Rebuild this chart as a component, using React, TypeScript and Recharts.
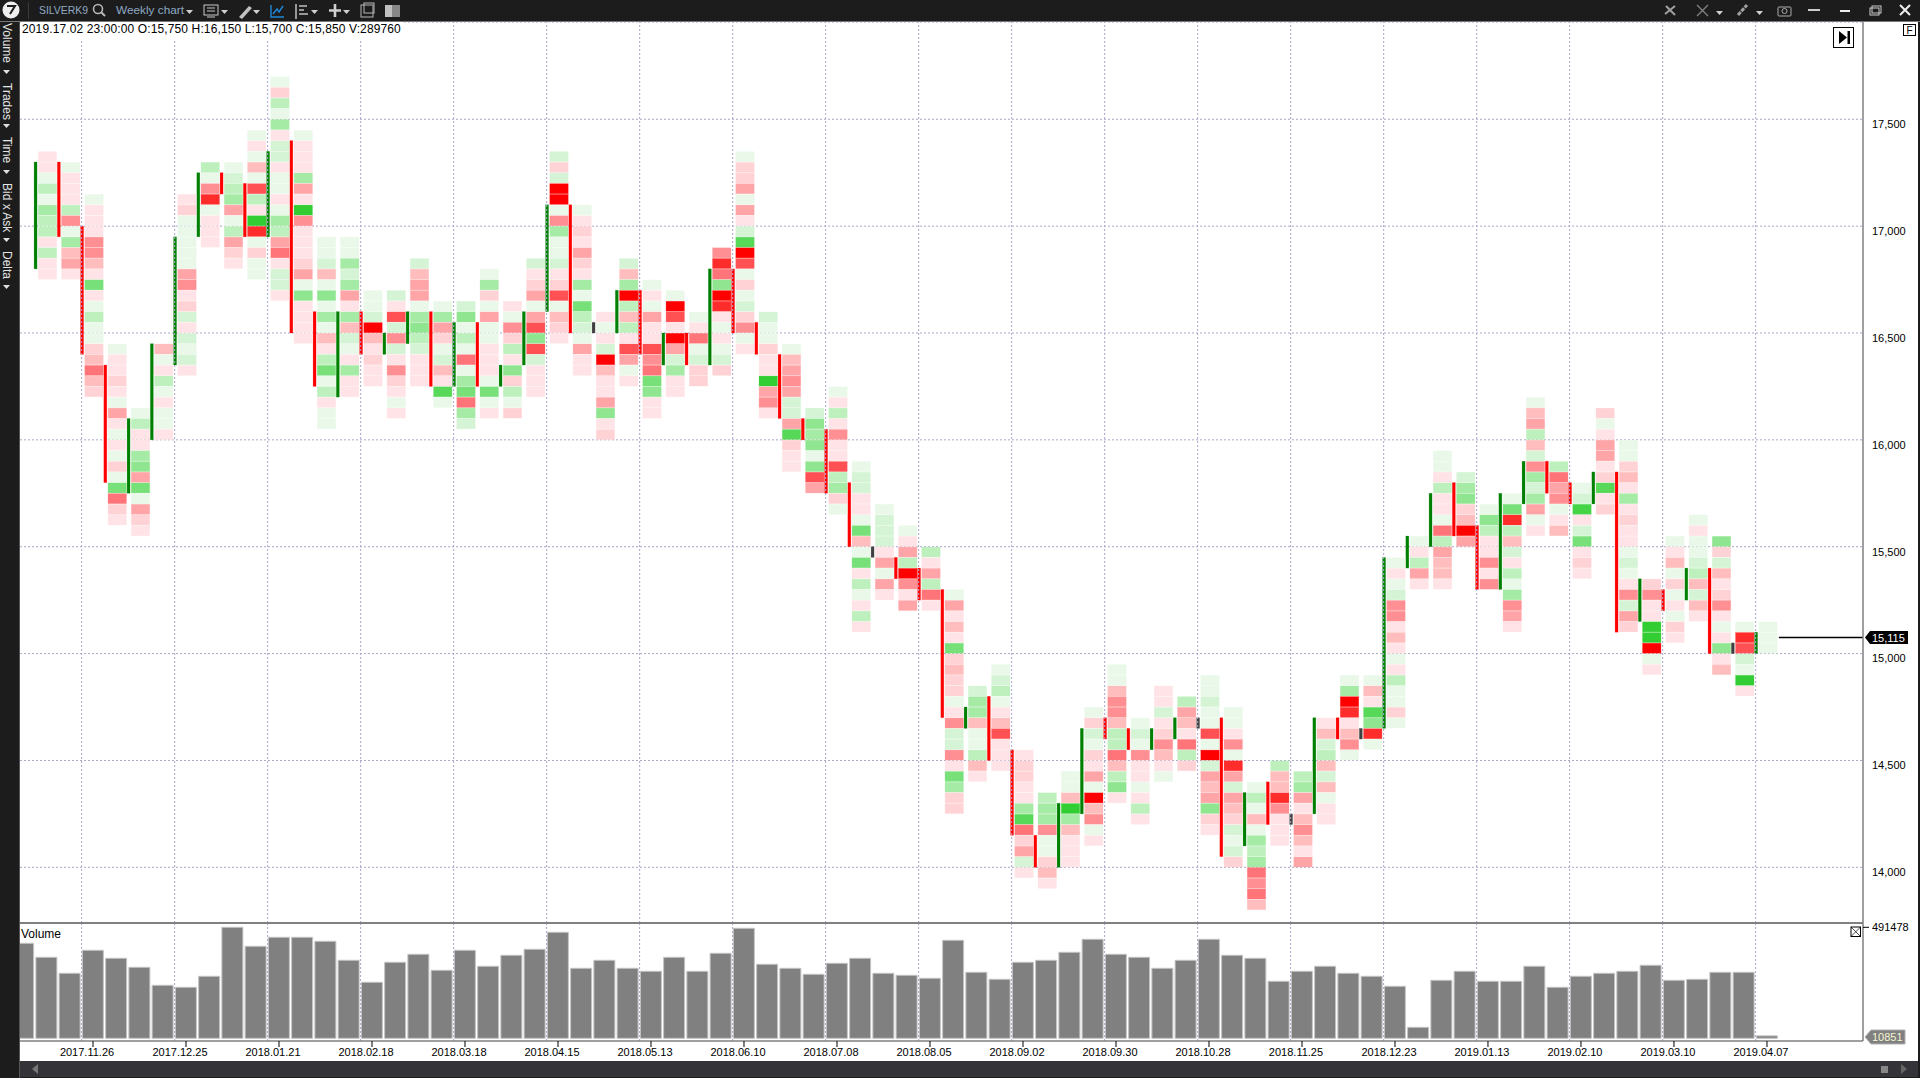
import React from 'react';
import {
  Bar,
  CartesianGrid,
  ComposedChart,
  ReferenceLine,
  Scatter,
  XAxis,
  YAxis,
} from 'recharts';

// one entry per weekly bar, index 0 is the first fully visible bar
const candleOpen = [
  16800, 17300, 17000, 16350, 15750, 16000, 16350, 16950, 17250, 17200,
  16950, 17400, 16600, 16200, 16600, 16400, 16450, 16600, 16250, 16550,
  16250, 16350, 16600, 17100, 16500, 16500, 16700, 16350, 16500, 16350,
  16800, 16550, 16400, 16100, 16050, 15800, 15450, 15450, 15400, 15300,
  14650, 14800, 14550, 14150, 14000, 14250, 14700, 14650, 14550, 14600,
  14650, 14700, 14100, 14400, 14200, 14250, 14700, 14600, 14650, 15400,
  15500, 15800, 15600, 15300, 15700, 15900, 15800, 15700, 15850, 15150,
  15300, 15250, 15400, 15000, 15000,
];
const candleClose = [
  17300, 16950, 16400, 15800, 16100, 16450, 16950, 17250, 17150, 16950,
  17350, 16500, 16250, 16600, 16400, 16500, 16600, 16250, 16550, 16250,
  16350, 16600, 17100, 16500, 16500, 16700, 16400, 16500, 16350, 16800,
  16500, 16400, 16100, 16000, 15750, 15500, 15450, 15350, 15250, 14700,
  14750, 14500, 14150, 14000, 14300, 14650, 14600, 14550, 14650, 14700,
  14650, 14050, 14350, 14200, 14200, 14700, 14600, 14600, 15450, 15550,
  15750, 15550, 15300, 15750, 15900, 15750, 15700, 15850, 15100, 15350,
  15200, 15400, 15000, 15000, 15100,
];
// price at the upper edge of the highest cell of each bar
const clusterTop = [
  17350, 17300, 17150, 16450, 16150, 16450, 17150, 17300, 17300, 17450,
  17700, 17450, 16950, 16950, 16700, 16700, 16850, 16650, 16650, 16800,
  16650, 16850, 17350, 17100, 16600, 16850, 16750, 16700, 16600, 16900,
  17350, 16600, 16450, 16150, 16250, 15900, 15700, 15600, 15500, 15300,
  14850, 14950, 14550, 14350, 14450, 14750, 14950, 14700, 14850, 14800,
  14900, 14750, 14400, 14500, 14450, 14700, 14900, 14900, 15450, 15550,
  15950, 15850, 15700, 15750, 16200, 15900, 15800, 16150, 16000, 15350,
  15550, 15650, 15550, 15150, 15150,
];
// bid/ask strength per price level, top to bottom: + buyers, - sellers
const clusterCells = [
  [-1, -1, 1, 3, 1, 4, 3, 3, -1, 3, -1, -1],
  [1, -1, -1, -1, 3, -5, 1, 4, -3, -4, -1],
  [1, -1, -1, -1, -5, -5, -3, -1, 6, -1, 1, 3, 1, 1, -2, -3, -6, -3, -2],
  [1, -1, -1, -2, -1, 1, -4, -1, 1, -1, 1, -2, 1, 6, -6, -2, -1],
  [1, 3, -1, -1, 4, 5, -4, 6, 1, -4, -2, -1],
  [-3, 1, -1, 3, 1, -1, 1, 1, -1],
  [-1, -2, 1, 1, 1, 1, 1, -4, -5, -1, -2, 2, -1, 2, 1, 2, -1],
  [3, 1, -5, -8, 1, -1, -1, -1],
  [1, 2, 3, 4, -4, 1, 3, -4, -2, -1],
  [1, -1, 1, -3, 1, -7, 3, -1, 9, -8, 1, -2, 1, 1],
  [1, -2, 3, 1, 4, -1, 2, 2, -1, 1, 1, -1, 1, 4, 3, -4, -6, -1, 2, 2, -1],
  [1, -1, -1, -1, 4, -4, -1, 9, -5, -1, -1, -1, -2, -4, 1, 5, -1, -1, -1, -1],
  [1, 1, 2, -3, 1, 5, 1, 4, 1, -3, -1, 3, 6, 1, 3, -1, 1, 1],
  [1, 1, 4, 2, 4, -4, -1, 4, -3, 2, 1, -1, 4, -1, -1],
  [1, 1, 2, -9, -3, -1, -2, -1, -1],
  [2, -1, -7, 2, -5, 2, -1, -5, -2, -1, 1, -1],
  [2, -3, -4, -4, 1, 4, 5, 3, 2, -1, -1, -1],
  [1, 4, -4, -2, 1, 2, -3, -1, 7, 1],
  [2, 5, 1, 3, 1, -6, 1, 4, 6, -6, 4, 2],
  [1, 4, -2, 1, -4, 1, 1, -1, -1, -1, 1, 6, 1, -1],
  [-1, 1, -5, -2, 3, -1, 5, -2, 3, 1, -2],
  [2, -1, -2, -4, 1, -4, -7, 5, -7, 2, -1, -1, -1],
  [2, -2, 2, -9, -9, 1, -5, 4, 1, 1, 2, -1, -2, -7, 1, -3, -2, -1],
  [1, -1, -2, -1, -4, -2, -1, 4, 1, 6, 3, 2, 1, -4, -1, -1],
  [-1, 1, -1, 2, -9, -3, -1, -1, -4, 5, -1, -2],
  [2, -3, 4, -9, 3, -3, 3, -1, -7, -4, 1, -1],
  [1, -1, 1, -4, -1, -1, -7, -5, -6, 6, 5, -1, -1],
  [1, -9, -7, -1, -9, -4, 2, 4, -1, -1],
  [1, -1, -6, 1, 2, -2, -2],
  [-5, -8, -6, 5, -9, -8, -1, 1, -1, 1, 2, -2],
  [1, -2, -2, -4, 1, -4, -1, 2, 7, -9, -7, 1, -2, 1, 2, -2, -5, 1, -1],
  [2, 1, 1, -2, -1, -1, 9, -4, -5, -1],
  [1, -3, -4, -5, -4, 2, 2, -4, 7, -2, -1, -1],
  [2, 5, 4, 5, 1, 5, -7, -4],
  [1, -1, 3, -1, -5, -1, -1, -7, 3, 4, -2, 1],
  [1, 2, 2, -1, -1, 1, 6, -3, 1, 6, -1, 3, 1, -1, 3, -1],
  [1, 2, 2, 2, -1, -4, 1, -4, -1],
  [1, -1, -4, 3, -9, -5, -1, -4],
  [3, -1, -4, 3, -6, -1],
  [1, -4, -1, -3, -1, 6, -2, -3, -2, -2, 1, -1, -5, 2, 2, -5, -1, 6, 4, -2, -2],
  [2, 4, 4, -3, 1, 1, 3, -3, -1],
  [1, 2, 3, 1, -1, -3, -7, -1, -1, -1],
  [-1, -2, -2, -1, -1, 4, 7, -6, -2, -4, 2, -1],
  [3, 4, 4, -5, 1, 1, -2, -3, -1],
  [1, 1, -3, 9, 4, -3, -1, -1, -1],
  [1, -2, 2, 1, -2, -1, -4, 1, -9, -3, -5, 1, -1],
  [1, 1, -3, -5, -5, -3, 3, 3, -6, -3, 3, 5, -1],
  [1, 2, 1, -5, -1, -1, 1, -1, 3, -1],
  [-1, -1, 2, -1, -2, -5, -3, -1, 1],
  [3, -4, -3, -1, -6, 3, -2],
  [1, 1, 2, 1, 1, -7, 1, -9, 2, -4, -3, -4, 5, -2, -1],
  [1, 1, -1, -5, 1, -8, -4, 2, -4, -3, -2, 2, 1, 2, -2],
  [1, 3, 1, -3, 1, 4, 3, 4, -6, -5, -6, -3],
  [3, -3, -3, -8, -5, -1, -1, -1],
  [3, 4, -4, -1, -3, -5, -3, -1, -4],
  [-1, -3, 2, 3, -3, 2, -3, 1, -1, -1],
  [1, 4, -9, -8, -1, -3, -5, 1],
  [1, -3, -1, 7, 5, -8, 1],
  [1, -1, 1, 2, -5, -5, -1, -3, -1, 1, -1, 3, 1, 1, -2, 1],
  [1, -1, 3, -4, -1],
  [1, 1, -1, 3, -1, -1, 1, -6, 3, -4, -3, -3, -1],
  [2, 4, 5, -2, -3, -9, -4],
  [1, 5, 3, -1, -1, -5, -1, -5],
  [1, 6, -8, 3, -3, 2, -1, 3, 1, 4, -5, -4, -1],
  [1, -3, -4, 3, -3, 2, -5, 4, 2, 4, -4, 1, -1],
  [3, -6, -4, -5, 1, -1, -3],
  [1, 2, 8, -1, 2, 6, -1, -2, -1],
  [-2, 1, -1, -4, -4, -1, -2, 7, -1, -2],
  [1, 1, -2, -3, -1, 4, -1, -2, -1, -1, 1, 2, 1, -1, -5, 2, -4, -2],
  [-2, -5, -1, -1, 9, 9, -9, 1, -1],
  [1, -1, -3, 1, -2, 1, -1, 1, -2, -1],
  [1, -1, 1, 1, 2, 3, -3, 2, -3, -1],
  [5, -2, 2, -3, -1, -2, -5, -1, 1, -1, 5, -1, -3],
  [1, -8, -7, 2, 1, 9, -1],
  [1, 1, 1],
];
// index -1 is the bar cut off by the left edge of the panel
const volumes = [
  420660, 358670, 287820, 389660, 354240, 314390, 234680, 225830, 274540,
  491478, 407380, 447230, 447230, 429520, 345380, 247970, 336530, 371950,
  301100, 389660, 318820, 367520, 394090, 469370, 309960, 345380, 309960,
  296680, 358670, 296680, 376380, 487080, 327670, 309960, 283390, 332100,
  354240, 287820, 278960, 265680, 433940, 292250, 261250, 336530, 345380,
  380810, 438370, 371950, 358670, 309960, 345380, 438370, 367520, 354240,
  252400, 296680, 318820, 287820, 274540, 230260, 48710, 256820, 296680,
  252400, 252400, 318820, 225830, 274540, 287820, 296680, 323240, 256820,
  261250, 292250, 292250, 10851,
];
const dateTicks = [
  '2017.11.26', '2017.12.25', '2018.01.21', '2018.02.18', '2018.03.18',
  '2018.04.15', '2018.05.13', '2018.06.10', '2018.07.08', '2018.08.05',
  '2018.09.02', '2018.09.30', '2018.10.28', '2018.11.25', '2018.12.23',
  '2019.01.13', '2019.02.10', '2019.03.10', '2019.04.07',
];
const dateTickBars = [2, 6, 10, 14, 18, 22, 26, 30, 34, 38, 42, 46, 50, 54, 58, 62, 66, 70, 74];
const priceTicks = [14000, 14500, 15000, 15500, 16000, 16500, 17000, 17500];
const volumeTicks = [491478];
const lastLevel = 15075;
const lastBar = 74.47;
const PRICE_STEP = 50;

const greens = ['#e9f8e9', '#d5f4d5', '#bdf0bd', '#a5eaa5', '#90e690', '#78e078', '#58d858', '#45d445', '#32cd32'];
const reds = ['#ffe3e6', '#ffd3d6', '#ffbdbd', '#ffa5a8', '#ff8f92', '#ff7478', '#ff5053', '#ff2c2c', '#ff0000'];
const GRID = '#a9a5c9';
const FONT = '"Liberation Sans", Arial, sans-serif';

const priceDomain: [number, number] = [13739.5, 17955];
const priceX: [number, number] = [-1.183, 78.086];
const volumeX: [number, number] = [-1.14, 78.13];

const candleRows = candleOpen.map((open, i) => {
  const close = candleClose[i];
  const doji = open === close;
  return {
    i,
    range: doji ? [open, open + PRICE_STEP] : [Math.min(open, close), Math.max(open, close)],
    color: doji ? '#404040' : close > open ? '#008000' : '#ff0000',
  };
});
const cellRows = clusterCells.flatMap((cells, i) =>
  cells.map((v, n) => ({ i, price: clusterTop[i] - PRICE_STEP * n - PRICE_STEP / 2, v })),
);
const volumeRows = volumes.map((v, n) => ({ i: n - 1, v }));

const CellShape = (p: any) => {
  const v = p.payload.v;
  const fill = v > 0 ? greens[v - 1] : reds[-v - 1];
  return (
    <rect
      x={p.cx - 9.2}
      y={p.cy - 5}
      width={18.4}
      height={10}
      fill={fill}
      stroke={fill}
      strokeOpacity={0.35}
      strokeWidth={0.7}
    />
  );
};

const CandleShape = (p: any) => (
  <rect
    x={p.x + p.width / 2 - 13.3}
    y={p.y}
    width={3}
    height={p.height}
    fill={p.payload.color}
    stroke={p.payload.color}
    strokeOpacity={0.25}
    strokeWidth={0.7}
  />
);

const PriceTick = (p: any) => (
  <text x={1872 - 20} y={p.y + 6} fontSize={11} fontFamily={FONT} fill="#000" dominantBaseline="middle">
    {p.payload.value.toLocaleString('en-US')}
  </text>
);

const VolumeTick = (p: any) => (
  <text x={1872 - 20} y={p.y + 1} fontSize={11} fontFamily={FONT} fill="#000" dominantBaseline="middle">
    {p.payload.value}
  </text>
);

const DateTick = (p: any) => (
  <text x={p.x - 6} y={p.y + 4} fontSize={11} fontFamily={FONT} fill="#000" textAnchor="middle" dominantBaseline="middle">
    {dateTicks[dateTickBars.indexOf(p.payload.value)]}
  </text>
);

const gridLines = (offset: number) =>
  dateTickBars.map((b) => (
    <ReferenceLine key={b} x={b + offset} stroke={GRID} strokeDasharray="2 2" />
  ));

const abs = (left: number, top: number, width: number, height: number, extra?: React.CSSProperties): React.CSSProperties => ({
  position: 'absolute',
  left,
  top,
  width,
  height,
  ...extra,
});

const Tri = ({ x, y }: { x: number; y: number }) => <polygon points={`${x},${y} ${x + 7},${y} ${x + 3.5},${y + 4}`} fill="#d0d0d0" />;

const TopBar = () => (
  <svg style={abs(0, 0, 1920, 22)} width={1920} height={22}>
    <rect width={1920} height={22} fill="#1c1c1c" />
    <rect y={21} width={1920} height={1} fill="#777" />
    <circle cx={11} cy={10} r={8.5} fill="#eee" />
    <path d="M7 6h8l-5 8" stroke="#1c1c1c" strokeWidth={2} fill="none" />
    <rect x={28} y={2} width={1} height={17} fill="#3a3a3a" />
    <text x={39} y={14} fontSize={11.5} fontFamily={FONT} fill="#8fa9c4" textLength={49} lengthAdjust="spacingAndGlyphs">SILVERK9</text>
    <circle cx={98} cy={9} r={4.5} stroke="#b8b8b8" strokeWidth={1.6} fill="none" />
    <path d="M101 12l4 4" stroke="#b8b8b8" strokeWidth={2} />
    <text x={116} y={14} fontSize={11.5} fontFamily={FONT} fill="#8fa9c4" textLength={68} lengthAdjust="spacingAndGlyphs">Weekly chart</text>
    <Tri x={186} y={10} />
    <rect x={204} y={5} width={14} height={10} stroke="#c8c8c8" fill="none" />
    <path d="M207 17h8M207 8h8M207 11h8" stroke="#c8c8c8" />
    <Tri x={221} y={10} />
    <path d="M239 17l10-11 3 2-10 11z" fill="#c0c0c0" />
    <Tri x={253} y={10} />
    <path d="M271 5v12h13M273 14l4-5 2 3 4-6" stroke="#1e88d8" strokeWidth={1.4} fill="none" />
    <path d="M296 4v15M299 6h8M299 10h5M299 14h9" stroke="#c0c0c0" strokeWidth={1.5} />
    <Tri x={311} y={10} />
    <path d="M335 4v13M329 10.500h12" stroke="#d0d0d0" strokeWidth={2.6} />
    <Tri x={343} y={10} />
    <rect x={361} y={5} width={12} height={12} stroke="#b8b8b8" fill="none" />
    <rect x={364} y={3} width={10} height={10} stroke="#b8b8b8" fill="none" />
    <rect x={385} y={5} width={11} height={12} fill="#c0c0c0" />
    <rect x={392} y={5} width={8} height={12} fill="#888" />
    <path d="M1665 14l10-8M1666 6l9 9" stroke="#a0a0a0" strokeWidth={2} />
    <path d="M1697 16l11-11M1697 5l11 11" stroke="#808080" strokeWidth={1.4} />
    <Tri x={1716} y={11} />
    <path d="M1738 15l9-10" stroke="#a0a0a0" strokeWidth={3} strokeDasharray="4 1" />
    <Tri x={1756} y={11} />
    <rect x={1778} y={7} width={13} height={9} rx={1} stroke="#aaa" fill="none" />
    <circle cx={1784.500} cy={11} r={2.500} stroke="#aaa" fill="none" />
    <path d="M1808 10h12" stroke="#ccc" strokeWidth={2} />
    <rect x={1840} y={10} width={10} height={2} fill="#eee" />
    <rect x={1870} y={8} width={9} height={7} stroke="#ccc" fill="none" />
    <rect x={1872} y={6} width={9} height={7} stroke="#ccc" fill="none" />
    <path d="M1900 5l10 10M1910 5l-10 10" stroke="#eee" strokeWidth={2} />
  </svg>
);

const sideLabels = [
  { text: 'Volume', top: 23, tri: 70 },
  { text: 'Trades', top: 83, tri: 124 },
  { text: 'Time', top: 137, tri: 170 },
  { text: 'Bid x Ask', top: 183, tri: 238 },
  { text: 'Delta', top: 251, tri: 285 },
];

const SidePanel = () => (
  <div style={abs(0, 22, 20, 1056, { background: '#1c1c1c', borderRight: '1px solid #555', boxSizing: 'border-box' })}>
    {sideLabels.map((s) => (
      <React.Fragment key={s.text}>
        <div
          style={abs(0, s.top - 22, 14, 60, {
            writingMode: 'vertical-rl',
            color: '#e4e4e4',
            fontFamily: FONT,
            fontSize: 12,
            lineHeight: '14px',
          })}
        >
          {s.text}
        </div>
        <svg style={abs(3, s.tri - 22, 8, 5)} width={8} height={5}>
          <polygon points="0,0 7,0 3.500,4" fill="#e0e0e0" />
        </svg>
      </React.Fragment>
    ))}
  </div>
);

export default function App() {
  return (
    <div style={{ position: 'fixed', left: 0, top: 0, width: 1920, height: 1078, background: '#fff', overflow: 'hidden' }}>
      <div style={abs(20, 22, 1898, 901)}>
        <ComposedChart
          width={1896}
          height={901}
          data={candleRows}
          margin={{ top: 0, right: 0, bottom: 0, left: 0 }}
        >
          <CartesianGrid vertical={false} stroke={GRID} strokeDasharray="2 2" />
          <XAxis dataKey="i" type="number" domain={priceX} allowDataOverflow hide />
          <YAxis
            dataKey="price"
            orientation="right"
            type="number"
            width={53}
            domain={priceDomain}
            allowDataOverflow
            ticks={priceTicks}
            tick={<PriceTick />}
            tickLine={false}
            axisLine={{ stroke: '#808080', strokeWidth: 1.5 }}
            interval={0}
          />
          {gridLines(-0.53)}
          <Bar dataKey="range" barSize={3} shape={<CandleShape />} isAnimationActive={false} />
          <Scatter data={cellRows} dataKey="price" shape={<CellShape />} isAnimationActive={false} />
          <ReferenceLine
            segment={[
              { x: lastBar, y: lastLevel },
              { x: priceX[1], y: lastLevel },
            ]}
            stroke="#000"
            strokeWidth={1.5}
          />
        </ComposedChart>
      </div>

      <div style={abs(20, 913, 1898, 148)}>
        <ComposedChart
          width={1896}
          height={148}
          data={volumeRows}
          margin={{ top: 10, right: 0, bottom: 0, left: 0 }}
        >
          <XAxis
            dataKey="i"
            type="number"
            domain={volumeX}
            allowDataOverflow
            ticks={dateTickBars}
            interval={0}
            height={20}
            tick={<DateTick />}
            tickSize={6}
            tickLine={{ stroke: '#000' }}
            axisLine={{ stroke: '#808080', strokeWidth: 1.5 }}
          />
          <YAxis
            orientation="right"
            type="number"
            width={53}
            domain={[-11955, 510520]}
            allowDataOverflow
            ticks={volumeTicks}
            tick={<VolumeTick />}
            tickSize={6}
            tickLine={{ stroke: '#000' }}
            axisLine={{ stroke: '#808080', strokeWidth: 1.5 }}
            interval={0}
          />
          {gridLines(-0.49)}
          <Bar
            dataKey="v"
            barSize={21}
            fill="#808080"
            stroke="#c4c4c4"
            strokeWidth={1}
            isAnimationActive={false}
          />
        </ComposedChart>
      </div>

      <div style={abs(20, 922, 1843, 1.5, { background: '#808080' })} />
      <div style={abs(21, 22, 380, 17, { background: '#fff', color: '#000', fontFamily: FONT, fontSize: 12, letterSpacing: 0.12, lineHeight: '15px', whiteSpace: 'nowrap', paddingLeft: 1 })}>
        2019.17.02 23:00:00 O:15,750 H:16,150 L:15,700 C:15,850 V:289760
      </div>
      <div style={abs(21, 927, 60, 14, { color: '#000', fontFamily: FONT, fontSize: 12, lineHeight: '14px' })}>Volume</div>

      <svg style={abs(1820, 22, 100, 30)} width={100} height={30}>
        <rect x={13.500} y={5.500} width={20} height={20} fill="#fff" stroke="#000" />
        <polygon points="19,9 27,15.500 19,22" fill="#000" />
        <rect x={27.500} y={9} width={2.500} height={13} fill="#000" />
        <rect x={83.500} y={2.500} width={12} height={11} fill="#fff" stroke="#000" />
        <text x={86.500} y={12} fontSize={10} fontFamily={FONT} fill="#000">F</text>
      </svg>
      <svg style={abs(1850, 926, 12, 12)} width={12} height={12}>
        <rect x={1} y={1} width={9.500} height={9.500} fill="#fff" stroke="#000" />
        <path d="M1 1l9.500 9.500M10.500 1l-9.500 9.500" stroke="#000" strokeWidth={0.7} />
      </svg>

      <svg style={abs(1864, 630, 46, 16)} width={46} height={16}>
        <polygon points="1,7.500 6,1 44,1 44,14 6,14" fill="#000" />
        <text x={8} y={11.500} fontSize={11} fontFamily={FONT} fill="#fff">15,115</text>
      </svg>
      <svg style={abs(1864, 1029, 44, 16)} width={44} height={16}>
        <polygon points="1,8 7,1 41,1 41,15 7,15" fill="#808080" stroke="#b0b0b0" />
        <text x={8} y={12} fontSize={11} fontFamily={FONT} fill="#f4f4d0">10851</text>
      </svg>

      <svg style={abs(20, 1061, 1900, 17)} width={1900} height={17}>
        <rect width={1900} height={17} fill="#333338" />
        <rect y={16} width={1900} height={1} fill="#1c1c1c" />
        <polygon points="12,8 18,3 18,13" fill="#777" />
        <rect x={1861} y={5} width={7} height={7} fill="#888" />
        <polygon points="1881,3 1887,8 1881,13" fill="#666" />
      </svg>
      <div style={abs(1918, 0, 2, 1078, { background: '#1c1c1c' })} />
      <SidePanel />
      <TopBar />
    </div>
  );
}
